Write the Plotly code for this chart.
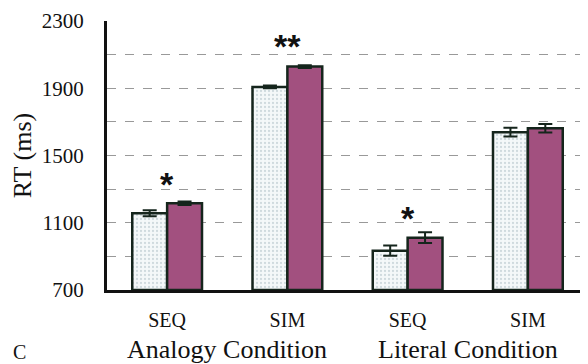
import plotly.graph_objects as go

categories = ["SEQ", "SIM", "SEQ ", "SIM "]
tick_labels = ["SEQ", "SIM", "SEQ", "SIM"]
white_vals = [1156, 1908, 934, 1639]
white_err = [18, 8, 30, 26]
pink_vals = [1216, 2029, 1011, 1662]
pink_err = [10, 8, 32, 25]
y_ticks = [700, 900, 1100, 1300, 1500, 1700, 1900, 2100, 2300]
y_ticktext = ["700", "", "1100", "", "1500", "", "1900", "", "2300"]
stars = ["*", "**", "*", ""]
star_y = [1330, 2150, 1130, None]
groups = ["Analogy Condition", "Literal Condition"]

x = [0, 1, 2, 3]
serif = "Liberation Serif, Times New Roman, serif"
edge = "#15251c"

fig = go.Figure()
fig.add_trace(go.Bar(
    x=x, y=[v - 700 for v in white_vals], base=700,
    error_y=dict(type="data", array=white_err, color=edge, thickness=2, width=7),
    marker=dict(color="#f2f6f7", line=dict(color=edge, width=2.5),
                pattern=dict(shape=".", fgcolor="#a9bcc2", bgcolor="#f4f8f9", size=4, solidity=0.25)),
    showlegend=False,
))
fig.add_trace(go.Bar(
    x=x, y=[v - 700 for v in pink_vals], base=700,
    error_y=dict(type="data", array=pink_err, color=edge, thickness=2, width=7),
    marker=dict(color="#a2507f", line=dict(color=edge, width=2.5)),
    showlegend=False,
))

for xi, s, sy in zip(x, stars, star_y):
    if s:
        fig.add_annotation(x=xi, y=sy, text="<b>" + s + "</b>", showarrow=False,
                           font=dict(family="Liberation Sans, Arial, sans-serif", size=34, color="#111"),
                           xanchor="center", yanchor="middle")

for gi, g in enumerate(groups):
    fig.add_annotation(x=0.5 + 2 * gi, y=-0.223, yref="paper", text=g, showarrow=False,
                       font=dict(family=serif, size=26, color="#111"), xanchor="center", yanchor="middle")

fig.add_annotation(x=-0.181, y=-0.232, xref="paper", yref="paper", text="C", showarrow=False,
                   font=dict(family=serif, size=20, color="#111"), xanchor="center", yanchor="middle")

fig.update_layout(
    width=580, height=356,
    margin=dict(l=99, r=0, t=13, b=74),
    paper_bgcolor="white", plot_bgcolor="white",
    barmode="group", bargap=0.42, bargroupgap=0,
    font=dict(family=serif, color="#111"),
)
fig.update_xaxes(
    range=[-0.5, 3.5], tickvals=x, ticktext=tick_labels, automargin=False,
    tickfont=dict(family=serif, size=20, color="#111"),
    showline=True, linecolor="#111", linewidth=2.5,
    showgrid=False, ticks="", ticklabelstandoff=10, zeroline=False,
)
fig.update_yaxes(
    range=[700, 2300], tickvals=y_ticks, ticktext=y_ticktext, automargin=False,
    tickfont=dict(family=serif, size=21, color="#111"),
    showline=True, linecolor="#111", linewidth=3,
    showgrid=True, gridcolor="#999999", gridwidth=1, griddash="dash",
    ticks="", ticklabelstandoff=16, zeroline=False,
    title=dict(text="RT (ms)", font=dict(family=serif, size=26, color="#111"), standoff=12),
)
fig.write_html("out.html")
